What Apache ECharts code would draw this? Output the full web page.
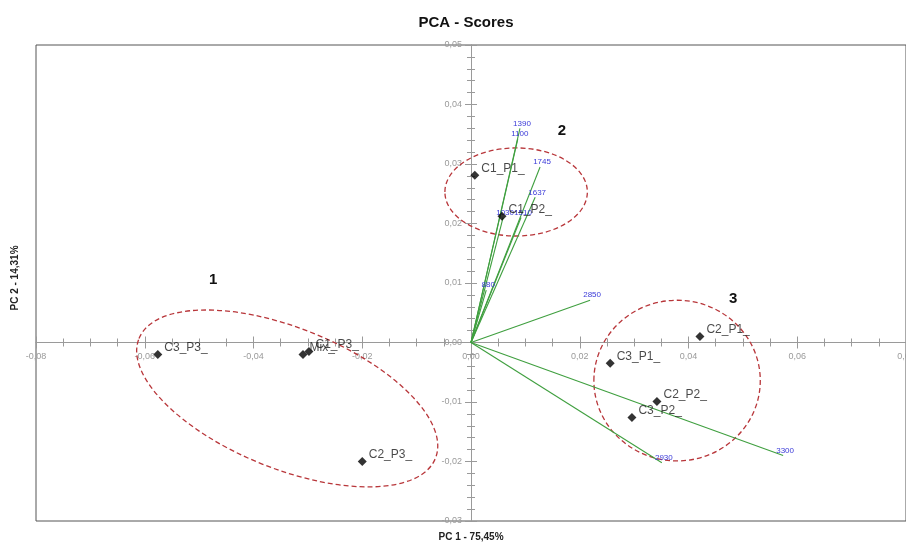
<!DOCTYPE html>
<html>
<head>
<meta charset="utf-8">
<title>PCA - Scores</title>
<script src="https://cdn.jsdelivr.net/npm/echarts@6/dist/echarts.min.js"></script>
<style>
  html, body { margin: 0; padding: 0; background: #fff; }
  #chart { width: 906px; height: 544px; }
</style>
</head>
<body>
<div id="chart"></div>
<script>
// Sample scores on the first two principal components
const scoreNames = ['C3_P3_', 'Mix_', 'C1_P3_', 'C2_P3_', 'C1_P1_', 'C1_P2_', 'C2_P1_', 'C3_P1_', 'C2_P2_', 'C3_P2_'];
const scorePC1 = [-0.0576, -0.0309, -0.0298, -0.0200, 0.0007, 0.0057, 0.0421, 0.0256, 0.0342, 0.0296];
const scorePC2 = [-0.0020, -0.0020, -0.0015, -0.0200, 0.0281, 0.0212, 0.0010, -0.0035, -0.0099, -0.0126];

// Variable loadings (wavenumbers) drawn as vectors from the origin
const loadNames = ['1390', '1100', '1745', '1637', '1030', '1510', '880', '2850', '2930', '3300'];
const loadPC1 = [0.0090, 0.0086, 0.0127, 0.0118, 0.0059, 0.0092, 0.0028, 0.0219, 0.0351, 0.0574];
const loadPC2 = [0.0360, 0.0342, 0.0295, 0.0244, 0.0210, 0.0210, 0.0088, 0.0071, -0.0202, -0.0190];

// Sample groups: centre, semi-axes (in axis units) and clockwise tilt in degrees
const groupNames = ['1', '2', '3'];
const groupCX = [-0.0338, 0.0083, 0.0379];
const groupCY = [-0.0094, 0.0253, -0.0064];
const groupRX = [0.0294, 0.0131, 0.0153];
const groupRY = [0.0118, 0.0074, 0.0135];
const groupTilt = [22, 0, 0];
// Where each group number is written
const groupLabelX = [-0.0474, 0.0167, 0.0482];
const groupLabelY = [0.0106, 0.0355, 0.0074];

// Axis ranges and tick steps
const xMin = -0.08, xMax = 0.08, xStep = 0.02;
const yMin = -0.03, yMax = 0.05, yStep = 0.01;

const W = 906, H = 544;
const GRID = { left: 36, right: 0, top: 45, bottom: 23 };

const FONT = '"Liberation Sans", Arial, sans-serif';
const comma = v => v.toFixed(2).replace('.', ',');

const scoreData = scoreNames.map((n, i) => ({ name: n, value: [scorePC1[i], scorePC2[i]] }));
const loadData = loadNames.map((n, i) => [loadPC1[i], loadPC2[i], n]);
const groupData = groupNames.map((n, i) => [groupCX[i], groupCY[i], groupRX[i], groupRY[i], groupTilt[i]]);
const groupLabelData = groupNames.map((n, i) => [groupLabelX[i], groupLabelY[i], n]);

// The axes cross at the origin: shift them from the plot edges to the zero lines
const plotW = W - GRID.left - GRID.right;
const plotH = H - GRID.top - GRID.bottom;
const xAxisShift = -plotH * (0 - yMin) / (yMax - yMin);   // bottom edge -> y = 0
const yAxisShift = -plotW * (0 - xMin) / (xMax - xMin);   // left edge -> x = 0

// Two axes per direction (one ticking outward, one inward) so the ticks cross the line
function xAxisCfg(inside, withLabels) {
  return {
    type: 'value', position: 'bottom', offset: xAxisShift,
    min: xMin, max: xMax, interval: xStep,
    axisLine: { onZero: false, lineStyle: { color: '#9a9a9a', width: 1 } },
    axisTick: { show: true, inside: inside, length: 6, lineStyle: { color: '#9a9a9a' } },
    minorTick: { show: true, splitNumber: 4, length: 4, lineStyle: { color: '#9a9a9a' } },
    splitLine: { show: false },
    axisLabel: { show: withLabels, formatter: comma, color: '#9a9a9a', fontSize: 9, fontFamily: FONT, margin: 10 }
  };
}
function yAxisCfg(inside, withLabels) {
  return {
    type: 'value', position: 'left', offset: yAxisShift,
    min: yMin, max: yMax, interval: yStep,
    axisLine: { onZero: false, lineStyle: { color: '#9a9a9a', width: 1 } },
    axisTick: { show: true, inside: inside, length: 6, lineStyle: { color: '#9a9a9a' } },
    minorTick: { show: true, splitNumber: 5, length: 4, lineStyle: { color: '#9a9a9a' } },
    splitLine: { show: false },
    axisLabel: { show: withLabels, formatter: comma, color: '#9a9a9a', fontSize: 9, fontFamily: FONT, margin: 9 }
  };
}

const chart = echarts.init(document.getElementById('chart'), null, { renderer: 'canvas' });

chart.setOption({
  animation: false,
  backgroundColor: '#ffffff',
  title: {
    text: 'PCA - Scores', left: 466, top: 15, textAlign: 'center', padding: 0,
    textStyle: { fontSize: 15, fontWeight: 'bold', color: '#111', fontFamily: FONT }
  },
  grid: {
    left: GRID.left, right: GRID.right, top: GRID.top, bottom: GRID.bottom,
    outerBoundsMode: 'none', containLabel: false,
    show: true, borderColor: '#555', borderWidth: 1, backgroundColor: 'transparent'
  },
  xAxis: [xAxisCfg(false, true), xAxisCfg(true, false)],
  yAxis: [yAxisCfg(false, true), yAxisCfg(true, false)],
  graphic: [
    { type: 'text', x: 471, y: 537,
      style: { text: 'PC 1 - 75,45%', font: 'bold 10px ' + FONT, fill: '#222', align: 'center', verticalAlign: 'middle' } },
    { type: 'text', x: 15, y: 278, rotation: Math.PI / 2,
      style: { text: 'PC 2 - 14,31%', font: 'bold 10px ' + FONT, fill: '#222', align: 'center', verticalAlign: 'middle' } }
  ],
  series: [
    {
      // dashed group outlines
      type: 'custom', name: 'groups', silent: true, z: 1,
      data: groupData,
      renderItem: function (params, api) {
        const c = api.coord([api.value(0), api.value(1)]);
        const s = api.size([api.value(2), api.value(3)]);
        return {
          type: 'ellipse', x: c[0], y: c[1], rotation: -api.value(4) * Math.PI / 180,
          shape: { cx: 0, cy: 0, rx: s[0], ry: s[1] },
          style: { fill: 'none', stroke: '#b8363a', lineWidth: 1.3, lineDash: [5, 3] }
        };
      }
    },
    {
      // loading vectors with their wavenumber labels
      type: 'custom', name: 'loadings', silent: true, z: 2,
      data: loadData,
      renderItem: function (params, api) {
        const o = api.coord([0, 0]);
        const p = api.coord([api.value(0), api.value(1)]);
        return {
          type: 'group',
          children: [
            { type: 'line', shape: { x1: o[0], y1: o[1], x2: p[0], y2: p[1] },
              style: { stroke: '#3f9f3f', lineWidth: 1.1 } },
            { type: 'text', x: p[0] + 2, y: p[1] - 5,
              style: { text: loadNames[params.dataIndex], font: '8px ' + FONT, fill: '#3a3ad8',
                       align: 'center', verticalAlign: 'middle' } }
          ]
        };
      }
    },
    {
      type: 'scatter', name: 'scores', z: 3,
      symbol: 'diamond', symbolSize: 9,
      itemStyle: { color: '#000' },
      data: scoreData,
      label: {
        show: true, position: 'right', distance: 2, offset: [0, -7],
        formatter: '{b}', color: '#1a1a1a', fontSize: 12, fontFamily: FONT
      }
    },
    {
      // group numbers
      type: 'custom', name: 'groupLabels', silent: true, z: 3,
      data: groupLabelData,
      renderItem: function (params, api) {
        const p = api.coord([api.value(0), api.value(1)]);
        return {
          type: 'text', x: p[0], y: p[1],
          style: { text: groupNames[params.dataIndex], font: 'bold 15px ' + FONT, fill: '#111',
                   align: 'center', verticalAlign: 'middle' }
        };
      }
    }
  ]
});
</script>
</body>
</html>
